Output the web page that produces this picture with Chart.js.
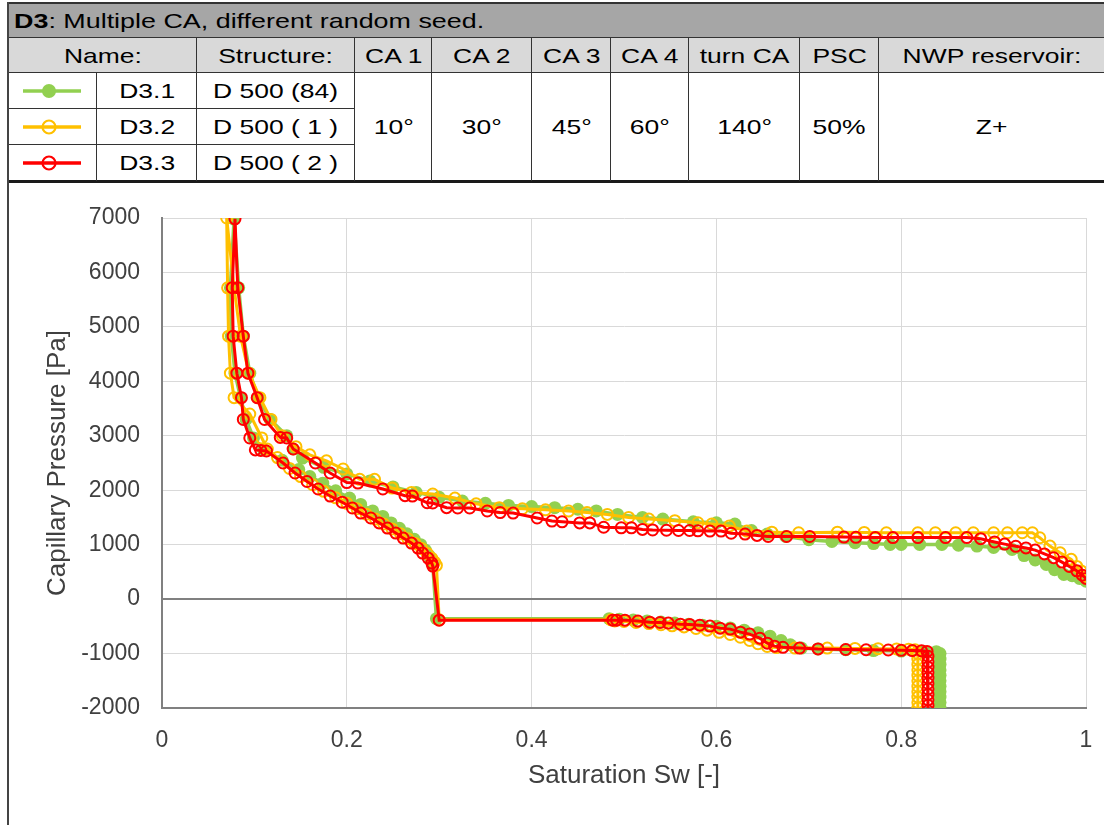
<!DOCTYPE html>
<html>
<head>
<meta charset="utf-8">
<script src="https://cdn.jsdelivr.net/npm/chart.js@4.4.1/dist/chart.umd.min.js"></script>
<style>
  html, body { margin: 0; padding: 0; background: #fff; }
  body { width: 1104px; height: 825px; position: relative; overflow: hidden;
         font-family: "Liberation Sans", Arial, sans-serif; color: #000; }
  .bg { position: absolute; }
  .ln { position: absolute; background: #333; }
  .cell { position: absolute; display: flex; align-items: center; justify-content: center;
          font-size: 21px; white-space: nowrap; }
  .cell span { display: inline-block; transform: scaleX(1.26); }
  #title { position: absolute; left: 14px; top: 3px; height: 35px; display: flex; align-items: center;
           font-size: 21px; white-space: nowrap; }
  #title span { display: inline-block; transform: scaleX(1.28); transform-origin: left center; }
  #chartBox { position: absolute; left: 0; top: 181px; width: 1104px; height: 644px; }
  svg.mk { position: absolute; }
</style>
</head>
<body>
<!-- table backgrounds -->
<div class="bg" style="left:8px;top:3px;width:1096px;height:35px;background:#a6a6a6"></div>
<div class="bg" style="left:8px;top:38px;width:1096px;height:35px;background:#d9d9d9"></div>

<div id="title"><span><b>D3</b>: Multiple CA, different random seed.</span></div>

<!-- header -->
<div class="cell" style="left:8px;top:38px;width:189px;height:35px"><span>Name:</span></div>
<div class="cell" style="left:197px;top:38px;width:158px;height:35px"><span>Structure:</span></div>
<div class="cell" style="left:355px;top:38px;width:77px;height:35px"><span>CA 1</span></div>
<div class="cell" style="left:432px;top:38px;width:100px;height:35px"><span>CA 2</span></div>
<div class="cell" style="left:532px;top:38px;width:79px;height:35px"><span>CA 3</span></div>
<div class="cell" style="left:611px;top:38px;width:78px;height:35px"><span>CA 4</span></div>
<div class="cell" style="left:689px;top:38px;width:111px;height:35px"><span>turn CA</span></div>
<div class="cell" style="left:800px;top:38px;width:79px;height:35px"><span>PSC</span></div>
<div class="cell" style="left:879px;top:38px;width:225px;height:35px"><span>NWP reservoir:</span></div>

<!-- data rows -->
<div class="cell" style="left:97px;top:73px;width:100px;height:36px"><span>D3.1</span></div>
<div class="cell" style="left:97px;top:109px;width:100px;height:36px"><span>D3.2</span></div>
<div class="cell" style="left:97px;top:145px;width:100px;height:36px"><span>D3.3</span></div>
<div class="cell" style="left:197px;top:73px;width:158px;height:36px"><span>D 500 (84)</span></div>
<div class="cell" style="left:197px;top:109px;width:158px;height:36px"><span>D 500 ( 1 )</span></div>
<div class="cell" style="left:197px;top:145px;width:158px;height:36px"><span>D 500 ( 2 )</span></div>
<div class="cell" style="left:355px;top:73px;width:77px;height:108px"><span>10°</span></div>
<div class="cell" style="left:432px;top:73px;width:100px;height:108px"><span>30°</span></div>
<div class="cell" style="left:532px;top:73px;width:79px;height:108px"><span>45°</span></div>
<div class="cell" style="left:611px;top:73px;width:78px;height:108px"><span>60°</span></div>
<div class="cell" style="left:689px;top:73px;width:111px;height:108px"><span>140°</span></div>
<div class="cell" style="left:800px;top:73px;width:79px;height:108px"><span>50%</span></div>
<div class="cell" style="left:879px;top:73px;width:225px;height:108px"><span>Z+</span></div>

<!-- legend markers -->
<svg class="mk" style="left:8px;top:73px" width="89" height="108">
  <line x1="15" y1="18" x2="73" y2="18" stroke="#92d050" stroke-width="3.5"/>
  <circle cx="41" cy="18" r="7" fill="#92d050"/>
  <line x1="15" y1="54" x2="73" y2="54" stroke="#ffc000" stroke-width="3.5"/>
  <circle cx="41" cy="54" r="6.5" fill="none" stroke="#ffc000" stroke-width="2.2"/>
  <line x1="15" y1="90" x2="73" y2="90" stroke="#ff0000" stroke-width="3.5"/>
  <circle cx="41" cy="90" r="6.5" fill="none" stroke="#ff0000" stroke-width="2.2"/>
</svg>

<div id="chartBox"><canvas id="c" width="1104" height="644"></canvas></div>

<!-- table lines -->
<div class="ln" style="left:7px;top:2px;width:1097px;height:2px"></div>
<div class="ln" style="left:7px;top:37px;width:1097px;height:1px"></div>
<div class="ln" style="left:7px;top:72px;width:1097px;height:1px"></div>
<div class="ln" style="left:7px;top:108px;width:348px;height:1px"></div>
<div class="ln" style="left:7px;top:144px;width:348px;height:1px"></div>
<div class="ln" style="left:7px;top:180px;width:1097px;height:3px;background:#1a1a1a"></div>
<div class="ln" style="left:96px;top:73px;width:1px;height:108px"></div>
<div class="ln" style="left:196px;top:38px;width:1px;height:143px"></div>
<div class="ln" style="left:354px;top:38px;width:1px;height:143px"></div>
<div class="ln" style="left:431px;top:38px;width:1px;height:143px"></div>
<div class="ln" style="left:531px;top:38px;width:1px;height:143px"></div>
<div class="ln" style="left:610px;top:38px;width:1px;height:143px"></div>
<div class="ln" style="left:688px;top:38px;width:1px;height:143px"></div>
<div class="ln" style="left:799px;top:38px;width:1px;height:143px"></div>
<div class="ln" style="left:878px;top:38px;width:1px;height:143px"></div>
<div class="ln" style="left:7px;top:2px;width:2px;height:823px;background:#444"></div>

<script>
// ---- tick labels ----
const xTickLabels = ['0', '0.2', '0.4', '0.6', '0.8', '1'];
const yTickLabels = ['-2000', '-1000', '0', '1000', '2000', '3000', '4000', '5000', '6000', '7000'];

// ---- D3.1 (green) : Saturation Sw [-] and Capillary Pressure [Pa] ----
const d31_sw = [1.000,0.993,0.985,0.976,0.966,0.957,0.945,0.933,0.920,0.900,0.882,0.862,0.844,0.820,0.800,0.788,0.770,0.750,0.725,0.700,0.675,0.655,0.638,0.620,0.600,0.575,0.542,0.520,0.493,0.470,0.450,0.425,0.400,0.375,0.350,0.325,0.300,0.275,0.250,0.225,0.200,0.175,0.152,0.142,0.135,0.117,0.104,0.095,0.088,0.083,0.078,
  0.074,0.075,0.079,0.085,0.091,0.099,0.110,0.130,0.148,0.160,0.174,0.188,0.203,0.215,0.228,0.239,0.248,0.257,0.265,0.273,0.280,0.285,0.289,0.292,0.293,0.297,
  0.484,0.495,0.510,0.525,0.540,0.555,0.570,0.585,0.600,0.615,0.630,0.645,0.658,0.670,0.680,0.692,0.710,0.740,0.770,0.800,0.825,0.838,0.842,0.842,0.842,0.842,0.842,0.842,0.842,0.842,0.842,0.842,0.842];
const d31_pc = [330,380,430,454,540,638,720,800,913,950,974,990,1005,1005,1005,1005,1020,1035,1060,1090,1150,1195,1260,1380,1403,1420,1470,1500,1556,1620,1650,1680,1700,1720,1760,1800,1870,1960,2060,2170,2300,2420,2590,2757,3000,3300,3700,4150,4830,5717,6980,
  5717,4830,4150,3700,3300,2960,2750,2550,2380,2250,2130,1990,1857,1740,1620,1518,1400,1300,1200,1100,1000,900,800,700,640,-360,
  -360,-370,-385,-400,-420,-440,-460,-480,-500,-530,-570,-620,-680,-760,-840,-900,-915,-930,-945,-955,-960,-965,-1000,-1100,-1200,-1300,-1400,-1500,-1600,-1700,-1800,-1900,-2000];

// ---- D3.2 (yellow) ----
const d32_sw = [1.000,0.995,0.990,0.984,0.972,0.961,0.950,0.942,0.931,0.915,0.900,0.878,0.859,0.837,0.818,0.784,0.760,0.731,0.689,0.660,0.633,0.614,0.595,0.580,0.555,0.527,0.505,0.482,0.460,0.440,0.415,0.390,0.365,0.340,0.317,0.293,0.270,0.249,0.230,0.214,0.196,0.178,0.160,0.145,0.130,0.118,0.106,0.094,0.085,0.078,0.070,
  0.071,0.072,0.074,0.078,0.095,0.108,0.114,0.125,0.138,0.150,0.163,0.175,0.188,0.200,0.211,0.221,0.231,0.240,0.249,0.258,0.266,0.274,0.281,0.287,0.292,0.295,0.297,0.300,
  0.486,0.490,0.500,0.513,0.527,0.540,0.552,0.565,0.578,0.590,0.603,0.615,0.626,0.636,0.645,0.655,0.665,0.685,0.720,0.750,0.775,0.795,0.808,0.815,0.818,0.818,0.818,0.818,0.818,0.818,0.818,0.818,0.818,0.818,0.818];
const d32_pc = [420,515,600,730,851,974,1127,1219,1219,1219,1219,1219,1219,1219,1219,1219,1225,1230,1219,1230,1250,1342,1380,1403,1440,1470,1500,1556,1590,1617,1640,1660,1680,1750,1856,1930,1960,2040,2200,2200,2390,2540,2650,2800,3000,3300,3700,4150,4830,5720,7000,
  5717,4830,4150,3700,3400,2960,2757,2600,2400,2250,2100,1980,1860,1760,1660,1560,1470,1380,1290,1200,1110,1020,930,840,750,680,620,-380,
  -380,-400,-410,-430,-450,-470,-490,-510,-540,-570,-610,-650,-700,-760,-820,-870,-890,-900,-900,-905,-910,-915,-920,-930,-1000,-1100,-1200,-1300,-1400,-1500,-1600,-1700,-1800,-1900,-2000];

// ---- D3.3 (red) ----
const d33_sw = [1.000,0.996,0.990,0.982,0.974,0.965,0.955,0.945,0.935,0.924,0.912,0.901,0.886,0.871,0.848,0.818,0.791,0.772,0.751,0.738,0.701,0.676,0.656,0.644,0.631,0.616,0.605,0.593,0.580,0.571,0.559,0.546,0.531,0.520,0.508,0.497,0.478,0.463,0.452,0.433,0.422,0.406,0.380,0.366,0.352,0.333,0.320,0.308,0.293,0.287,0.271,0.263,0.239,0.212,0.200,0.182,0.166,0.142,0.135,0.128,0.111,0.103,0.093,0.088,0.082,0.079,
  0.076,0.077,0.081,0.086,0.088,0.095,0.101,0.107,0.113,0.131,0.144,0.157,0.169,0.182,0.195,0.206,0.215,0.226,0.235,0.244,0.253,0.261,0.270,0.277,0.282,0.288,0.292,0.293,0.300,
  0.488,0.492,0.501,0.515,0.528,0.539,0.548,0.561,0.571,0.582,0.593,0.604,0.615,0.626,0.636,0.647,0.655,0.663,0.672,0.690,0.710,0.740,0.762,0.786,0.800,0.812,0.822,0.828,0.829,0.829,0.829,0.829,0.829,0.829,0.829,0.829,0.829,0.829,0.829];
const d33_pc = [380,440,520,600,680,760,830,900,940,970,1010,1050,1110,1130,1130,1130,1130,1130,1135,1140,1150,1150,1150,1170,1195,1210,1250,1250,1255,1260,1260,1265,1270,1280,1310,1310,1320,1400,1400,1420,1434,1490,1580,1590,1618,1673,1673,1680,1765,1770,1893,1900,2022,2132,2140,2316,2500,2757,2960,2970,3300,3700,4150,4830,5720,6985,
  5720,4830,4150,3700,3300,2960,2740,2730,2720,2500,2316,2160,2022,1893,1780,1673,1580,1490,1400,1305,1213,1121,1029,937,845,754,662,606,-386,
  -386,-386,-386,-404,-423,-430,-441,-460,-465,-478,-496,-533,-551,-607,-643,-717,-809,-864,-885,-900,-915,-925,-930,-935,-940,-945,-950,-960,-1050,-1150,-1250,-1350,-1450,-1550,-1650,-1750,-1850,-1950,-2050];

function pts(xs, ys) { return xs.map((x, i) => ({ x: x, y: ys[i] })); }

const FONT = '"Liberation Sans", Arial, sans-serif';
const TXT = '#404040';

new Chart(document.getElementById('c'), {
  type: 'scatter',
  data: {
    datasets: [
      { label: 'D3.1', data: pts(d31_sw, d31_pc), showLine: true, order: 2,
        borderColor: '#92d050', backgroundColor: '#92d050', borderWidth: 3.5,
        pointRadius: 6.5, pointBorderWidth: 0, pointBackgroundColor: '#92d050' },
      { label: 'D3.2', data: pts(d32_sw, d32_pc), showLine: true, order: 1,
        borderColor: '#ffc000', backgroundColor: 'rgba(0,0,0,0)', borderWidth: 3,
        pointRadius: 5.5, pointBorderWidth: 2, pointBorderColor: '#ffc000', pointBackgroundColor: 'rgba(0,0,0,0)' },
      { label: 'D3.3', data: pts(d33_sw, d33_pc), showLine: true, order: 0,
        borderColor: '#ff0000', backgroundColor: 'rgba(0,0,0,0)', borderWidth: 3,
        pointRadius: 5.5, pointBorderWidth: 2, pointBorderColor: '#ff0000', pointBackgroundColor: 'rgba(0,0,0,0)' }
    ]
  },
  options: {
    responsive: false,
    animation: false,
    devicePixelRatio: 1,
    layout: { padding: { left: 0, right: 18, top: 37, bottom: 0 } },
    plugins: { legend: { display: false }, tooltip: { enabled: false } },
    scales: {
      x: {
        type: 'linear', min: 0, max: 1,
        ticks: { stepSize: 0.2, padding: 0, color: TXT, font: { family: FONT, size: 23, lineHeight: '66px' },
                 callback: (v, i) => xTickLabels[i] },
        grid: { color: '#d9d9d9', lineWidth: 1, drawTicks: false },
        border: { color: '#808080', width: 2 },
        title: { display: true, text: 'Saturation Sw [-]', color: TXT,
                 font: { family: FONT, size: 26 }, padding: { top: 0, bottom: 34 } },
        afterFit: s => { s.height = 117; }
      },
      y: {
        type: 'linear', min: -2000, max: 7000,
        ticks: { stepSize: 1000, padding: 22, color: TXT, font: { family: FONT, size: 23 },
                 callback: (v, i) => yTickLabels[i] },
        grid: { color: c => (c.tick && c.tick.value === 0 ? '#808080' : '#d9d9d9'),
                lineWidth: c => (c.tick && c.tick.value === 0 ? 2 : 1), drawTicks: false },
        border: { color: '#808080', width: 2 },
        title: { display: true, text: 'Capillary Pressure [Pa]', color: TXT,
                 font: { family: FONT, size: 26 }, padding: { top: 42, bottom: 0 } },
        afterFit: s => { s.width = 162; }
      }
    }
  }
});
</script>
</body>
</html>
